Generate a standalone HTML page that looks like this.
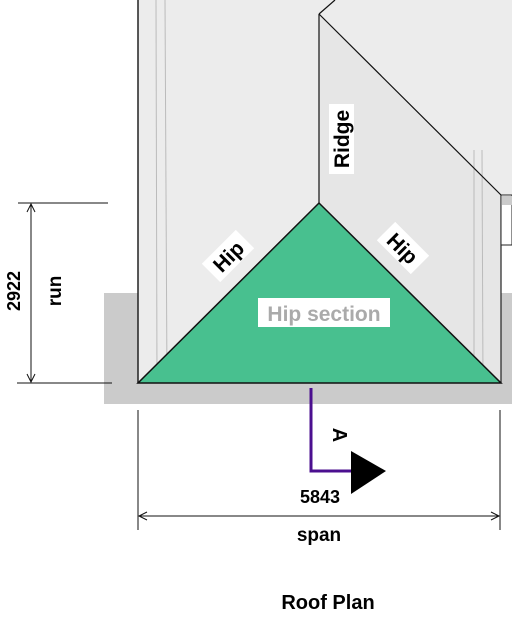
<!DOCTYPE html>
<html><head><meta charset="utf-8"><style>
html,body{margin:0;padding:0;background:#fff;}
svg{display:block;font-family:"Liberation Sans",sans-serif;}
</style></head><body>
<svg width="512" height="628" viewBox="0 0 512 628">
  <rect x="104" y="293" width="408" height="111" fill="#cbcbcb"/>
  <polygon points="138,0 512,0 512,195 501,195 501,383 138,383" fill="#ececec"/>
  <polygon points="319,14 501,195 501,383 319,203" fill="#e6e6e6"/>
  <line x1="138" y1="0" x2="138" y2="383" stroke="#222" stroke-width="1.5"/>
  <line x1="156" y1="0" x2="157" y2="383" stroke="#bbb" stroke-width="1"/>
  <line x1="165" y1="0" x2="167" y2="383" stroke="#bbb" stroke-width="1"/>
  <line x1="474" y1="150" x2="474" y2="383" stroke="#bbb" stroke-width="1"/>
  <line x1="482" y1="150" x2="483" y2="383" stroke="#bbb" stroke-width="1"/>
  <line x1="501" y1="195" x2="501" y2="383" stroke="#222" stroke-width="1.2"/>
  <rect x="501" y="195" width="11" height="50" fill="#fff" stroke="#222" stroke-width="1"/>
  <rect x="502" y="196" width="10" height="9" fill="#cbcbcb"/>
  <line x1="319" y1="14" x2="501" y2="195" stroke="#111" stroke-width="1.2"/>
  <line x1="319" y1="14" x2="335" y2="0" stroke="#111" stroke-width="1.2"/>
  <line x1="319" y1="14" x2="319" y2="203" stroke="#111" stroke-width="1.2"/>
  <polygon points="138,383 319,203 501,383" fill="#48c08f" stroke="#111" stroke-width="1.5"/>
  <g transform="translate(341,139) rotate(-90)">
    <rect x="-35" y="-12" width="70" height="25" fill="#fff"/>
    <text x="0" y="8" text-anchor="middle" font-size="21" font-weight="bold">Ridge</text>
  </g>
  <g transform="translate(228,256) rotate(-45)">
    <rect x="-24" y="-13" width="48" height="26" fill="#fff"/>
    <text x="0" y="8" text-anchor="middle" font-size="21" font-weight="bold">Hip</text>
  </g>
  <g transform="translate(403,248) rotate(45)">
    <rect x="-24" y="-13" width="48" height="26" fill="#fff"/>
    <text x="0" y="8" text-anchor="middle" font-size="21" font-weight="bold">Hip</text>
  </g>
  <rect x="258" y="298" width="132" height="29" fill="#fff"/>
  <text x="324" y="321" text-anchor="middle" font-size="21" font-weight="bold" fill="#aaa">Hip section</text>
  <line x1="18" y1="203" x2="108" y2="203" stroke="#111"/>
  <line x1="17" y1="383" x2="112" y2="383" stroke="#111"/>
  <line x1="31" y1="204" x2="31" y2="382" stroke="#111"/>
  <path d="M27,212 L31,204 L35,212 M27,374 L31,382 L35,374" fill="none" stroke="#111"/>
  <text transform="translate(20,291) rotate(-90)" text-anchor="middle" font-size="18" font-weight="bold">2922</text>
  <text transform="translate(61,291) rotate(-90)" text-anchor="middle" font-size="19" font-weight="bold">run</text>
  <polyline points="311,388 311,471 352,471" fill="none" stroke="#4b0f8f" stroke-width="3"/>
  <polygon points="351,451 386,471 351,494" fill="#000"/>
  <text transform="translate(333,435) rotate(90)" text-anchor="middle" font-size="20" font-weight="bold">A</text>
  <line x1="138" y1="410" x2="138" y2="530" stroke="#111"/>
  <line x1="500" y1="410" x2="500" y2="530" stroke="#111"/>
  <line x1="139" y1="516" x2="499" y2="516" stroke="#111"/>
  <path d="M147,512 L139,516 L147,520 M491,512 L499,516 L491,520" fill="none" stroke="#111"/>
  <text x="320" y="503" text-anchor="middle" font-size="18" font-weight="bold">5843</text>
  <text x="319" y="541" text-anchor="middle" font-size="19" font-weight="bold">span</text>
  <text x="328" y="609" text-anchor="middle" font-size="20" font-weight="bold">Roof Plan</text>
</svg>
</body></html>
